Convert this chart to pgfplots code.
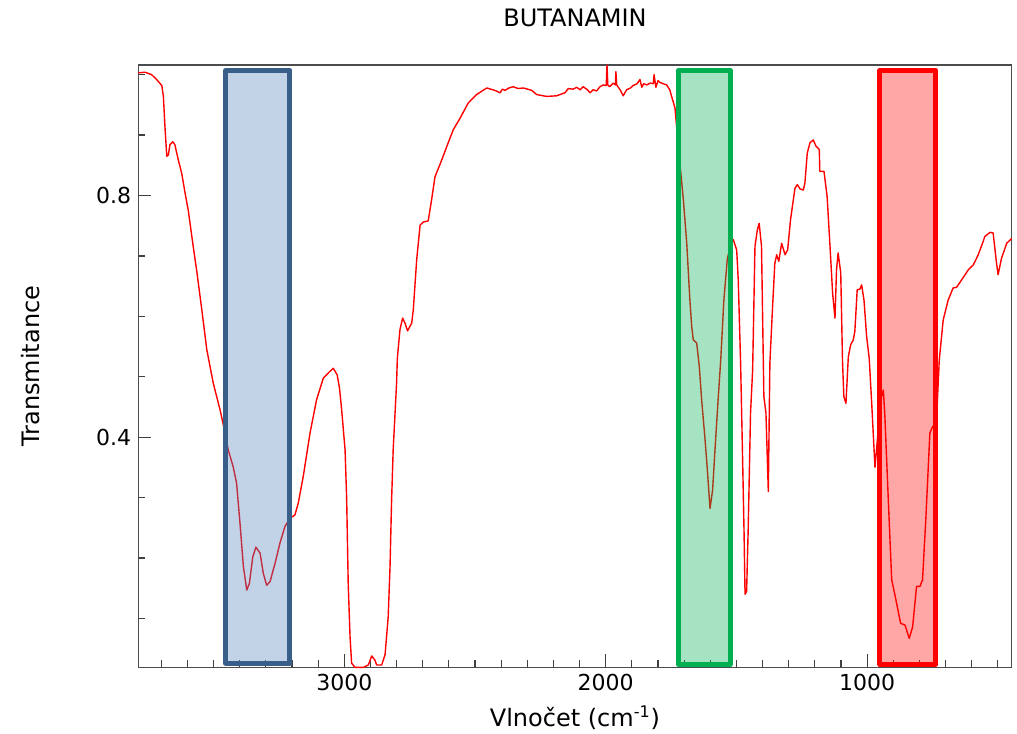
\documentclass[border=0pt]{standalone}
\usepackage{fontspec}
\setmainfont{DejaVu Sans}
\usepackage{pgfplots}
\pgfplotsset{compat=1.18}
\definecolor{bxblueD}{RGB}{58,94,138}
\definecolor{bxblueF}{RGB}{79,129,189}
\definecolor{bxgreen}{RGB}{0,176,80}
\definecolor{bxred}{RGB}{255,0,0}
\begin{document}
\begin{tikzpicture}
\begin{axis}[
  scale only axis,
  width=436.7pt, height=301.2pt,
  x dir=reverse,
  xmin=447, xmax=3788,
  ymin=0.019, ymax=1.016,
  xtick={1000,2000,3000},
  minor xtick={500,600,...,3700},
  ytick={0.4,0.8},
  minor ytick={0.1,0.2,...,1.0},
  yticklabel style={/pgf/number format/fixed,/pgf/number format/precision=1},
  /pgf/number format/assume math mode=true,
  scaled x ticks=false,
  xticklabel style={/pgf/number format/set thousands separator={}},
  tick align=inside,
  xtick pos=bottom, ytick pos=left,
  major tick length=6.5pt, minor tick length=3.5pt,
  axis line style={black!70, line width=0.65pt},
  every tick/.style={black!75, line width=0.6pt},
  tick label style={font=\fontsize{11}{13}\selectfont},
  label style={font=\fontsize{12}{14}\selectfont},
  xlabel={Vlnočet (cm\textsuperscript{-1})},
  ylabel={Transmitance},
  xlabel style={at={(axis description cs:0.5,-0.084)}, anchor=center},
  ylabel style={at={(axis description cs:-0.1237,0.5)}, anchor=center},
  clip=false,
]
\addplot[color=bxred, line width=0.7pt, line join=round] table {
3788 1.003
3762 1.004
3737 1.000
3718 0.992
3698 0.982
3692 0.964
3686 0.914
3679 0.865
3673 0.867
3667 0.884
3656 0.889
3648 0.884
3635 0.859
3622 0.837
3609 0.804
3597 0.776
3578 0.716
3565 0.677
3545 0.611
3526 0.545
3501 0.489
3475 0.445
3456 0.407
3444 0.379
3425 0.351
3412 0.324
3399 0.258
3386 0.186
3373 0.147
3363 0.158
3350 0.202
3338 0.218
3322 0.208
3310 0.175
3297 0.155
3284 0.161
3265 0.191
3246 0.225
3227 0.252
3208 0.266
3189 0.271
3176 0.291
3157 0.335
3131 0.407
3106 0.462
3080 0.498
3055 0.509
3042 0.514
3027 0.503
3018 0.480
3010 0.445
2997 0.379
2991 0.300
2985 0.158
2978 0.070
2972 0.026
2959 0.019
2927 0.019
2908 0.023
2895 0.038
2883 0.031
2876 0.023
2857 0.023
2844 0.040
2832 0.103
2825 0.186
2819 0.296
2813 0.379
2800 0.489
2797 0.531
2787 0.578
2777 0.597
2768 0.589
2758 0.576
2742 0.589
2736 0.611
2723 0.694
2710 0.751
2698 0.756
2679 0.758
2666 0.793
2653 0.831
2640 0.845
2627 0.859
2608 0.881
2583 0.909
2557 0.928
2526 0.953
2494 0.967
2455 0.978
2440 0.976
2424 0.974
2404 0.970
2395 0.976
2385 0.974
2370 0.978
2354 0.980
2335 0.977
2315 0.978
2283 0.974
2264 0.967
2226 0.964
2188 0.965
2156 0.970
2143 0.977
2125 0.976
2111 0.979
2098 0.975
2086 0.980
2070 0.975
2060 0.970
2048 0.975
2035 0.973
2022 0.980
2009 0.983
1998 0.982
1995 1.016
1992 0.983
1985 0.980
1971 0.986
1963 0.983
1961 1.005
1958 0.983
1945 0.975
1933 0.965
1920 0.975
1905 0.978
1895 0.982
1880 0.985
1869 0.992
1862 0.979
1855 0.985
1843 0.983
1830 0.986
1818 0.985
1815 1.000
1808 0.979
1800 0.990
1792 0.987
1780 0.985
1767 0.983
1755 0.975
1748 0.964
1735 0.945
1722 0.880
1703 0.793
1690 0.721
1678 0.627
1671 0.583
1665 0.561
1652 0.556
1642 0.517
1633 0.462
1620 0.396
1612 0.351
1601 0.282
1591 0.313
1582 0.379
1570 0.462
1560 0.528
1548 0.627
1535 0.694
1522 0.721
1512 0.727
1499 0.710
1493 0.660
1484 0.523
1476 0.357
1471 0.247
1467 0.140
1461 0.145
1455 0.247
1446 0.440
1438 0.511
1429 0.716
1420 0.743
1413 0.754
1404 0.716
1395 0.467
1387 0.440
1378 0.310
1372 0.523
1361 0.622
1353 0.688
1346 0.702
1338 0.691
1327 0.721
1314 0.702
1304 0.710
1293 0.760
1276 0.812
1267 0.818
1257 0.811
1244 0.809
1238 0.821
1229 0.870
1219 0.887
1206 0.892
1196 0.882
1183 0.876
1181 0.840
1165 0.840
1153 0.798
1142 0.716
1132 0.638
1123 0.597
1117 0.677
1111 0.705
1101 0.672
1094 0.523
1089 0.467
1081 0.456
1072 0.533
1063 0.553
1053 0.561
1047 0.575
1038 0.644
1028 0.645
1021 0.652
1012 0.627
1002 0.567
992 0.530
983 0.460
974 0.384
970 0.350
958 0.410
945 0.467
938 0.478
932 0.434
919 0.296
906 0.164
890 0.131
872 0.092
855 0.089
839 0.067
826 0.086
811 0.153
798 0.153
788 0.164
775 0.269
760 0.407
749 0.418
737 0.407
724 0.528
709 0.594
690 0.627
671 0.647
658 0.648
639 0.660
613 0.677
594 0.685
575 0.702
556 0.724
550 0.732
530 0.739
518 0.738
505 0.688
499 0.669
486 0.696
466 0.721
447 0.729
};
\addplot[draw=bxblueD, fill=bxblueF, fill opacity=0.35, line width=2.5pt, line join=round] coordinates {(3454,0.026) (3208,0.026) (3208,1.007) (3454,1.007)} -- cycle;
\addplot[draw=bxgreen, fill=bxgreen, fill opacity=0.35, line width=2.5pt, line join=round] coordinates {(1722,0.024) (1524,0.024) (1524,1.007) (1722,1.007)} -- cycle;
\addplot[draw=bxred, fill=bxred, fill opacity=0.35, line width=2.5pt, line join=round] coordinates {(951,0.024) (737,0.024) (737,1.007) (951,1.007)} -- cycle;
\node[font=\fontsize{12}{14}\selectfont, anchor=center, inner sep=0pt] at (axis description cs:0.5,1.078) {BUTANAMIN};
\end{axis}
\pgfresetboundingbox
\path ([shift={(-69.15pt,-32.85pt)}]current axis.south west) rectangle ([shift={(2.65pt,32.5pt)}]current axis.north east);
\end{tikzpicture}
\end{document}
